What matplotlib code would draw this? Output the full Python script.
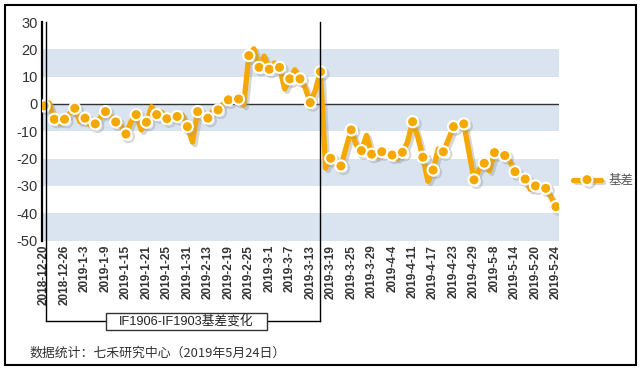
import matplotlib
matplotlib.use("Agg")
import matplotlib.pyplot as plt
import matplotlib.patheffects as pe
from matplotlib.lines import Line2D
from matplotlib.patches import Rectangle

plt.rcParams['font.family'] = ['Liberation Sans', 'Noto Sans CJK SC', 'DejaVu Sans']

# ---- data ----
month_days = [
    ("2018-12", [20, 21, 24, 25, 26, 27, 28]),
    ("2019-1", [2, 3, 4, 7, 8, 9, 10, 11, 14, 15, 16, 17, 18, 21, 22, 23, 24, 25, 28, 29, 30, 31]),
    ("2019-2", [1, 11, 12, 13, 14, 15, 18, 19, 20, 21, 22, 25, 26, 27, 28]),
    ("2019-3", [1, 4, 5, 6, 7, 8, 11, 12, 13, 14, 15, 18, 19, 20, 21, 22, 25, 26, 27, 28, 29]),
    ("2019-4", [1, 2, 3, 4, 8, 9, 10, 11, 12, 15, 16, 17, 18, 19, 22, 23, 24, 25, 26, 29, 30]),
    ("2019-5", [6, 7, 8, 9, 10, 13, 14, 15, 16, 17, 20, 21, 22, 23, 24]),
]
dates = [f"{m}-{d}" for m, days in month_days for d in days]

basis = [
    -0.7, 0.4, -5.6, -7.0, -5.6, -3.5, -1.6, -6.5, -5.2, -7.8,
    -7.3, -5.0, -2.8, -4.5, -6.6, -8.0, -11.0, -6.5, -3.9, -9.5,
    -6.7, -1.0, -3.9, -3.0, -5.4, -5.0, -4.6, -4.0, -8.3, -14.0,
    -2.8, -4.0, -5.2, -2.5, -2.2, 0.0, 1.5, 1.7, 1.8, -0.5,
    17.7, 20.2, 13.4, 17.5, 12.7, 15.0, 13.4, 5.5, 9.2, 12.5,
    9.2, 6.0, 0.5, 5.0, 11.8, -23.5, -19.9, -21.5, -22.7, -16.0,
    -9.5, -15.0, -17.1, -11.5, -18.4, -19.3, -17.5, -18.0, -18.7, -20.0,
    -17.7, -14.0, -6.5, -12.0, -19.5, -28.3, -24.2, -16.5, -17.5, -13.0,
    -8.3, -8.0, -7.3, -17.5, -27.8, -24.0, -21.7, -24.5, -17.8, -18.3,
    -18.9, -21.0, -24.8, -26.5, -27.5, -31.3, -30.0, -30.5, -30.9, -34.0,
    -37.6,
]
series_name = "基差"
yticks = [30, 20, 10, 0, -10, -20, -30, -40, -50]
bands = [(10, 20), (-10, 0), (-30, -20), (-50, -40)]
bracket_label = "IF1906-IF1903基差变化"
source_text = "数据统计：七禾研究中心（2019年5月24日）"

W, H = 641, 369
fig = plt.figure(figsize=(W / 100, H / 100), dpi=100)

def fx(px):
    return px / W

def fy(py):
    return 1 - py / H

left, right, top, bottom = 42, 559, 22, 240.5
ax = fig.add_axes([fx(left), fy(bottom), fx(right) - fx(left), fy(top) - fy(bottom)])

x = list(range(len(dates)))
for lo, hi in bands:
    ax.axhspan(lo, hi, color='#D9E4F0', lw=0, zorder=0)
ax.axhline(0, color='#333333', lw=1.0, zorder=1)

color = '#F5A800'
line, = ax.plot(x, basis, color=color, lw=3.8, marker='o', markevery=2,
                markersize=8, markerfacecolor=color, markeredgecolor='white',
                markeredgewidth=1.5, solid_joinstyle='round', solid_capstyle='round',
                zorder=3, label=series_name)
line.set_path_effects([pe.SimpleLineShadow(offset=(1.8, -1.8), shadow_color='#999999', alpha=0.4),
                       pe.Normal()])

ax.set_xlim(-0.4, 100.6)
ax.set_ylim(-50, 30)
ax.set_yticks(yticks)
ax.set_yticklabels([str(v) for v in yticks], fontsize=10.5, color='#333333')
ax.tick_params(axis='y', length=0, pad=3)
ax.set_xticks(x[::4])
ax.set_xticklabels(dates[::4], rotation=90, fontsize=8.5, fontweight='bold', color='#333333')
ax.tick_params(axis='x', length=0, pad=3)
for s in ['top', 'right', 'bottom']:
    ax.spines[s].set_visible(False)
ax.spines['left'].set_color('black')
ax.spines['left'].set_linewidth(1.6)

# legend
leg = ax.legend(loc='center left', bbox_to_anchor=(fx(562), fy(181)), bbox_transform=fig.transFigure,
                frameon=False, fontsize=9, handlelength=2.2, handletextpad=0.6)
for t in leg.get_texts():
    t.set_color('#555555')

# bracket annotation
lx, rx, ty, by = 45.5, 319.5, 22, 321
bx0, bx1, bt, bb = 106, 267, 313, 330
for (x0, y0, x1, y1) in [(lx, ty, lx, by), (lx, by, bx0, by), (bx1, by, rx, by), (rx, by, rx, ty)]:
    fig.add_artist(Line2D([fx(x0), fx(x1)], [fy(y0), fy(y1)], color='black', lw=1.0, zorder=5))
fig.add_artist(Rectangle((fx(bx0), fy(bb)), fx(bx1 - bx0), (bb - bt) / H, transform=fig.transFigure,
                         fc='white', ec='#333333', lw=1.0, zorder=5))
fig.text(fx((bx0 + bx1) / 2), fy((bt + bb) / 2), bracket_label, ha='center', va='center',
         fontsize=9.2, color='#222222', zorder=6)

fig.text(fx(29), fy(353), source_text, ha='left', va='center', fontsize=9.3, color='#333333',
         family=['Noto Sans CJK SC', 'DejaVu Sans'])

fig.add_artist(Rectangle((fx(4.5), fy(364.5)), fx(631), 1 - fy(360), transform=fig.transFigure,
                         fill=False, ec='black', lw=1.5, zorder=10))

fig.savefig('out.png', dpi=100)
